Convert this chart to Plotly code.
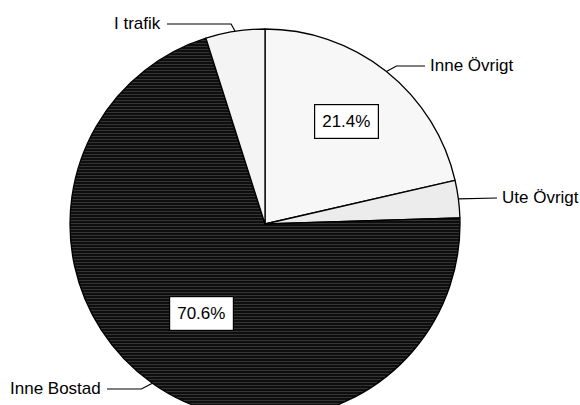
import math
import plotly.graph_objects as go

# ---- data ----
labels = ["Inne Övrigt", "Ute Övrigt", "Inne Bostad", "I trafik"]
values = [21.4, 3.1, 70.6, 4.9]
colors = ["#f7f7f7", "#ececec", "#0e0e0e", "#f4f4f4"]
patterns = ["", "", "-", ""]
show_pct = [True, False, True, False]

# ---- layout constants (pixels) ----
W, H = 580, 422
CX, CY, R = 265, 224, 195
FONT = "Liberation Sans, Arial, sans-serif"
FS = 17

# label placement: (text x, text y, anchor side, elbow dx from edge point)
label_pos = {
    "Inne Övrigt": (428, 66, "left", 10),
    "Ute Övrigt": (500, 198, "left", None),
    "Inne Bostad": (103, 389, "right", -11),
    "I trafik": (163, 24, "right", -4),
}
pct_radius = {"Inne Övrigt": 0.67, "Inne Bostad": 0.56}

fig = go.Figure()

fig.add_trace(go.Pie(
    labels=labels, values=values, sort=False, direction="clockwise", rotation=0,
    textinfo="none", hoverinfo="none", showlegend=False,
    marker=dict(colors=colors, line=dict(color="#000000", width=1.3),
                pattern=dict(shape=patterns, fgcolor=["#5a5a5a"] * len(labels),
                             bgcolor=colors, size=3,
                             solidity=0.33, fillmode="overlay")),
    domain=dict(x=[(CX - R) / W, (CX + R) / W],
                y=[(H - (CY + R)) / H, (H - (CY - R)) / H]),
))

total = sum(values)
cum = 0.0
annotations = []
for lab, val, sp in zip(labels, values, show_pct):
    mid = (cum + val / 2) / total * 2 * math.pi
    cum += val
    sx, sy = math.sin(mid), -math.cos(mid)
    ax, ay = CX + R * sx, CY + R * sy
    tx, ty, side, edx = label_pos[lab]
    lx = tx - 3 if side == "left" else tx + 4
    if edx is None:
        xs, ys = [ax, lx], [ay, ty]
    else:
        xs, ys = [ax, ax + edx, lx], [ay, ty, ty]
    fig.add_trace(go.Scatter(x=xs, y=ys, mode="lines", hoverinfo="skip",
                             line=dict(color="#000000", width=1.2), showlegend=False))
    annotations.append(dict(x=tx, y=ty - 1, xref="x", yref="y", text=lab, showarrow=False,
                            xanchor=side, yanchor="middle",
                            font=dict(family=FONT, size=FS, color="#000000")))
    if sp:
        rf = pct_radius[lab]
        annotations.append(dict(x=CX + rf * R * sx, y=CY + rf * R * sy, xref="x", yref="y",
                                text=f"{val / total * 100:.1f}%", showarrow=False,
                                xanchor="center", yanchor="middle",
                                bgcolor="#ffffff", bordercolor="#000000", borderwidth=1.2,
                                borderpad=7,
                                font=dict(family=FONT, size=FS, color="#000000")))

fig.update_layout(
    width=W, height=H, margin=dict(l=0, r=0, t=0, b=0),
    paper_bgcolor="#ffffff", plot_bgcolor="rgba(0,0,0,0)",
    xaxis=dict(range=[0, W], visible=False, fixedrange=True),
    yaxis=dict(range=[H, 0], visible=False, fixedrange=True),
    annotations=annotations, showlegend=False,
)

fig.write_html("out.html", config={"displayModeBar": False},
               post_script="document.documentElement.style.overflow='hidden';document.body.style.overflow='hidden';")
